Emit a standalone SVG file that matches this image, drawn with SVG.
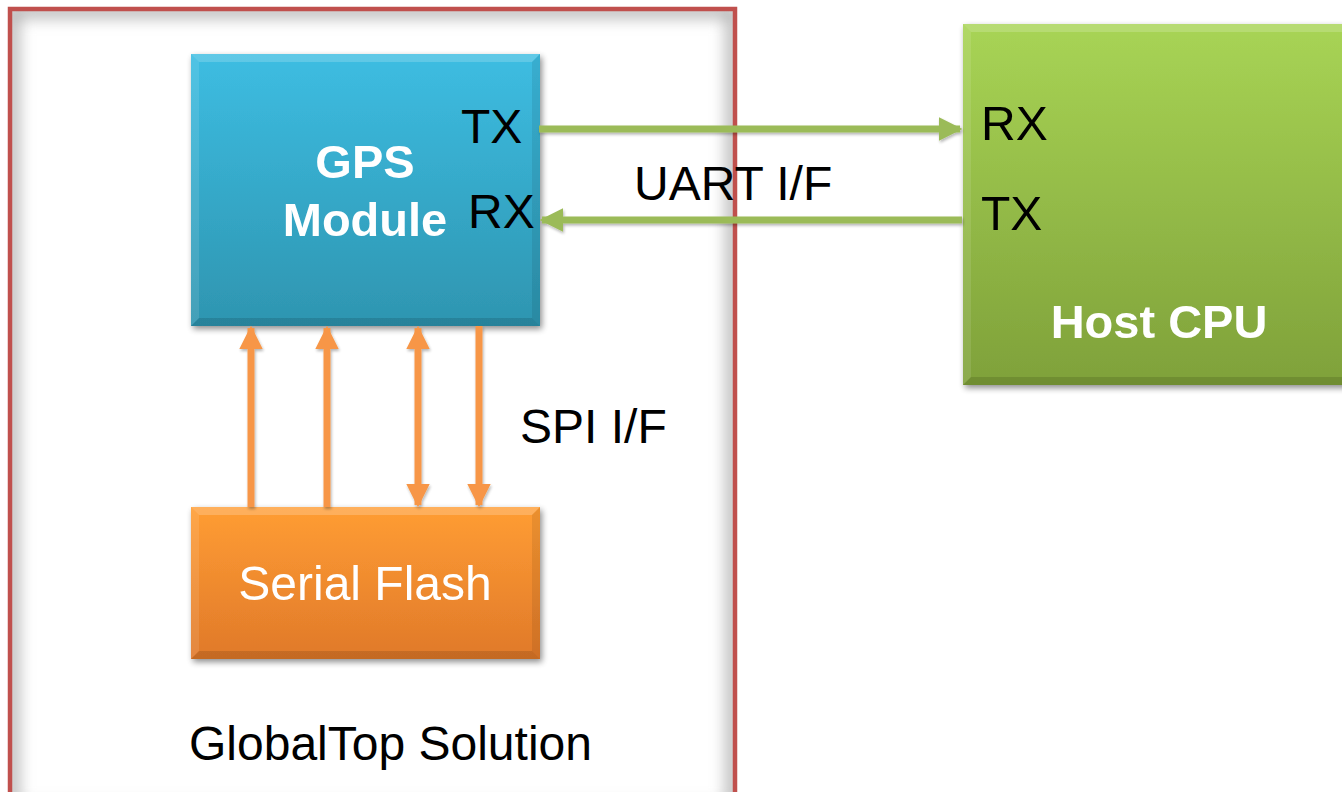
<svg xmlns="http://www.w3.org/2000/svg" width="1342" height="792" viewBox="0 0 1342 792">
<defs>
<style>
.lbl{font-family:"Liberation Sans",Arial,sans-serif;font-size:48px;fill:#000}
.wb{font-family:"Liberation Sans",Arial,sans-serif;font-size:47px;font-weight:bold;fill:#fff;text-anchor:middle}
.wn{font-family:"Liberation Sans",Arial,sans-serif;font-size:48px;fill:#fff;text-anchor:middle}
.g{stroke:#9BBB59;stroke-width:7;fill:none}
.o{stroke:#F79646;stroke-width:7;fill:none}
</style>
<linearGradient id="blue" x1="0" y1="0" x2="0" y2="1"><stop offset="0" stop-color="#3DBDE2"/><stop offset="1" stop-color="#2E95B0"/></linearGradient>
<linearGradient id="green" x1="0" y1="0" x2="0" y2="1"><stop offset="0" stop-color="#A8D455"/><stop offset="1" stop-color="#7FA13A"/></linearGradient>
<linearGradient id="orange" x1="0" y1="0" x2="0" y2="1"><stop offset="0" stop-color="#FF9D33"/><stop offset="1" stop-color="#E0792A"/></linearGradient>
<filter id="sh" x="-10%" y="-10%" width="130%" height="130%"><feGaussianBlur in="SourceAlpha" stdDeviation="3"/><feOffset dx="2" dy="3" result="b"/><feComponentTransfer><feFuncA type="linear" slope="0.45"/></feComponentTransfer><feMerge><feMergeNode/><feMergeNode in="SourceGraphic"/></feMerge></filter>
<filter id="ash" x="-20%" y="-20%" width="140%" height="140%"><feGaussianBlur in="SourceAlpha" stdDeviation="1.5"/><feOffset dx="1" dy="2"/><feComponentTransfer><feFuncA type="linear" slope="0.3"/></feComponentTransfer><feMerge><feMergeNode/><feMergeNode in="SourceGraphic"/></feMerge></filter>
<filter id="blur"><feGaussianBlur stdDeviation="8"/></filter>
<clipPath id="inner"><rect x="12" y="11" width="721" height="800"/></clipPath>
<marker id="ga" viewBox="0 0 10 10" refX="9" refY="5" markerWidth="3.4" markerHeight="3.4" orient="auto-start-reverse" markerUnits="strokeWidth"><path d="M0,0 L10,5 L0,10 z" fill="#9BBB59"/></marker>
<marker id="oa" viewBox="0 0 10 10" refX="9" refY="5" markerWidth="3.4" markerHeight="3.4" orient="auto-start-reverse" markerUnits="strokeWidth"><path d="M0,0 L10,5 L0,10 z" fill="#F79646"/></marker>
</defs>
<rect width="1342" height="792" fill="#fff"/>

<g id="frame">
<g clip-path="url(#inner)"><rect x="12" y="11" width="721" height="800" fill="none" stroke="#aaa" stroke-width="12" filter="url(#blur)"/></g>
<rect x="10" y="9" width="725" height="800" fill="none" stroke="#C0504D" stroke-width="4.5"/>
<text class="lbl" x="189" y="760">GlobalTop Solution</text>
</g>

<g id="gps" filter="url(#sh)">
<rect x="191" y="54" width="349" height="272" fill="url(#blue)"/>
<path d="M191,54 L540,54 L532,62 L199,62 Z" fill="#fff" opacity="0.18"/>
<path d="M191,54 L199,62 L199,318 L191,326 Z" fill="#fff" opacity="0.1"/>
<path d="M191,326 L199,318 L532,318 L540,326 Z" fill="#000" opacity="0.12"/>
<path d="M540,54 L532,62 L532,318 L540,326 Z" fill="#000" opacity="0.08"/>
<text class="wb" x="365" y="178">GPS</text>
<text class="wb" x="365" y="236">Module</text>
</g>
<text class="lbl" x="461" y="143">TX</text>
<text class="lbl" x="468" y="228">RX</text>

<g id="host" filter="url(#sh)">
<rect x="963" y="24" width="390" height="361" fill="url(#green)"/>
<path d="M963,24 L1353,24 L1345,32 L971,32 Z" fill="#fff" opacity="0.18"/>
<path d="M963,24 L971,32 L971,377 L963,385 Z" fill="#fff" opacity="0.1"/>
<path d="M963,385 L971,377 L1353,377 L1353,385 Z" fill="#000" opacity="0.12"/>
<text class="lbl" x="981" y="140">RX</text>
<text class="lbl" x="981" y="230">TX</text>
<text class="wb" x="1159" y="338">Host CPU</text>
</g>

<g id="flash" filter="url(#sh)">
<rect x="191" y="507" width="349" height="152" fill="url(#orange)"/>
<path d="M191,507 L540,507 L532,515 L199,515 Z" fill="#fff" opacity="0.2"/>
<path d="M191,507 L199,515 L199,651 L191,659 Z" fill="#fff" opacity="0.1"/>
<path d="M191,659 L199,651 L532,651 L540,659 Z" fill="#000" opacity="0.12"/>
<path d="M540,507 L532,515 L532,651 L540,659 Z" fill="#000" opacity="0.08"/>
<text class="wn" x="365" y="600">Serial Flash</text>
</g>

<g id="connectors" filter="url(#ash)">
<line class="g" x1="539" y1="129" x2="960" y2="129" marker-end="url(#ga)"/>
<line class="g" x1="962" y1="220" x2="542" y2="220" marker-end="url(#ga)"/>
<line class="o" x1="251" y1="507" x2="251" y2="328" marker-end="url(#oa)"/>
<line class="o" x1="327" y1="507" x2="327" y2="328" marker-end="url(#oa)"/>
<line class="o" x1="418" y1="328" x2="418" y2="505" marker-start="url(#oa)" marker-end="url(#oa)"/>
<line class="o" x1="479" y1="326" x2="479" y2="505" marker-end="url(#oa)"/>
</g>
<text class="lbl" x="634" y="200">UART I/F</text>
<text class="lbl" x="520" y="443">SPI I/F</text>
</svg>
